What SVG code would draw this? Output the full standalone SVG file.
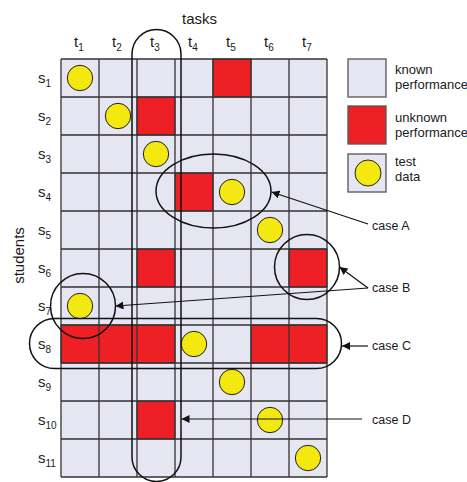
<svg xmlns="http://www.w3.org/2000/svg" width="467" height="482" viewBox="0 0 467 482">
<defs>
<style>
text{font-family:"Liberation Sans",Arial,sans-serif;fill:#1a1a1a}
.lbl{font-size:15px}
.sub{font-size:10px}
.leg{font-size:13px}
.case{font-size:12.5px}
.cell{fill:#e6e6f2}
.red{fill:#ee2026;stroke:#333;stroke-width:1}
.dot{fill:#f3e80f;stroke:#222;stroke-width:1}
.grid{stroke:#333;stroke-width:1.3;fill:none}
.ann{fill:none;stroke:#111;stroke-width:1.5}
.conn{fill:none;stroke:#111;stroke-width:1.2}
.legbox{stroke:#555;stroke-width:1.3}
</style>
<marker id="ah" viewBox="0 0 10 10" refX="10" refY="5" markerWidth="8" markerHeight="8" markerUnits="userSpaceOnUse" orient="auto">
<path d="M0,0 L10,5 L0,10 z" fill="#111"/>
</marker>
</defs>
<rect width="467" height="482" fill="#fff"/>

<g id="grid">
<rect class="cell" x="61" y="59" width="266" height="418"/>
</g>

<g id="unknown-cells">
<rect class="red" x="213" y="59" width="38" height="38"/>
<rect class="red" x="137" y="97" width="38" height="38"/>
<rect class="red" x="175" y="173" width="38" height="38"/>
<rect class="red" x="137" y="249" width="38" height="38"/>
<rect class="red" x="289" y="249" width="38" height="38"/>
<rect class="red" x="61" y="325" width="114" height="38"/>
<rect class="red" x="251" y="325" width="76" height="38"/>
<rect class="red" x="137" y="401" width="38" height="38"/>
</g>

<g id="gridlines" class="grid">
<path d="M61,59H327M61,97H327M61,135H327M61,173H327M61,211H327M61,249H327M61,287H327M61,325H327M61,363H327M61,401H327M61,439H327M61,477H327"/>
<path d="M61,59V477M99,59V477M137,59V477M175,59V477M213,59V477M251,59V477M289,59V477M327,59V477"/>
</g>

<g id="test-data">
<circle class="dot" cx="80" cy="78" r="12.7"/>
<circle class="dot" cx="118" cy="116" r="12.7"/>
<circle class="dot" cx="156" cy="154" r="12.7"/>
<circle class="dot" cx="232" cy="192" r="12.7"/>
<circle class="dot" cx="270" cy="230" r="12.7"/>
<circle class="dot" cx="80" cy="306" r="12.7"/>
<circle class="dot" cx="194" cy="344" r="12.7"/>
<circle class="dot" cx="232" cy="382" r="12.7"/>
<circle class="dot" cx="270" cy="420" r="12.7"/>
<circle class="dot" cx="308" cy="458" r="12.7"/>
</g>

<g id="axis-labels">
<text class="lbl" x="182" y="24">tasks</text>
<text class="lbl" x="74" y="47">t<tspan class="sub" dy="4">1</tspan></text>
<text class="lbl" x="112" y="47">t<tspan class="sub" dy="4">2</tspan></text>
<text class="lbl" x="150" y="47">t<tspan class="sub" dy="4">3</tspan></text>
<text class="lbl" x="188" y="47">t<tspan class="sub" dy="4">4</tspan></text>
<text class="lbl" x="226" y="47">t<tspan class="sub" dy="4">5</tspan></text>
<text class="lbl" x="264" y="47">t<tspan class="sub" dy="4">6</tspan></text>
<text class="lbl" x="302" y="47">t<tspan class="sub" dy="4">7</tspan></text>
<text class="lbl" x="38" y="83">s<tspan class="sub" dy="4">1</tspan></text>
<text class="lbl" x="38" y="121">s<tspan class="sub" dy="4">2</tspan></text>
<text class="lbl" x="38" y="159">s<tspan class="sub" dy="4">3</tspan></text>
<text class="lbl" x="38" y="197">s<tspan class="sub" dy="4">4</tspan></text>
<text class="lbl" x="38" y="235">s<tspan class="sub" dy="4">5</tspan></text>
<text class="lbl" x="38" y="273">s<tspan class="sub" dy="4">6</tspan></text>
<text class="lbl" x="38" y="311">s<tspan class="sub" dy="4">7</tspan></text>
<text class="lbl" x="38" y="349">s<tspan class="sub" dy="4">8</tspan></text>
<text class="lbl" x="38" y="387">s<tspan class="sub" dy="4">9</tspan></text>
<text class="lbl" x="38" y="425">s<tspan class="sub" dy="4">10</tspan></text>
<text class="lbl" x="38" y="463">s<tspan class="sub" dy="4">11</tspan></text>
<text class="lbl" transform="translate(24,255.5) rotate(-90)" text-anchor="middle">students</text>
</g>

<g id="legend">
<rect class="cell legbox" x="348" y="59" width="38" height="38"/>
<text class="leg" x="395" y="74">known</text>
<text class="leg" x="395" y="89">performance</text>
<rect class="legbox" x="348" y="106" width="38" height="38" fill="#ee2026"/>
<text class="leg" x="395" y="122">unknown</text>
<text class="leg" x="395" y="137">performance</text>
<rect class="cell legbox" x="348" y="154" width="38" height="38"/>
<circle class="dot" cx="368" cy="173" r="13"/>
<text class="leg" x="395" y="166">test</text>
<text class="leg" x="395" y="181">data</text>
</g>

<g id="caseA-region"><ellipse class="ann" cx="213.5" cy="191" rx="57.5" ry="37"/></g>
<g id="caseB-region-right"><circle class="ann" cx="307" cy="267" r="32.5"/></g>
<g id="caseB-region-left"><circle class="ann" cx="83" cy="306" r="32.5"/></g>
<g id="caseC-region"><rect class="ann" x="29.5" y="318.5" width="312" height="50" rx="25"/></g>
<g id="caseD-region"><rect class="ann" x="132" y="29.5" width="49" height="452" rx="24.5"/></g>

<g id="case-labels">
<text class="case" x="372" y="229.5">case A</text>
<text class="case" x="372" y="292">case B</text>
<text class="case" x="372" y="350">case C</text>
<text class="case" x="372" y="423.5">case D</text>
</g>

<g id="connectors" class="conn">
<path d="M368,224 L271.5,192" marker-end="url(#ah)"/>
<path d="M368,288 L339.5,267" marker-end="url(#ah)"/>
<path d="M368,288 L115.5,306" marker-end="url(#ah)"/>
<path d="M368,346 L342,346" marker-end="url(#ah)"/>
<path d="M362,419 L181.5,419" marker-end="url(#ah)"/>
</g>
</svg>
